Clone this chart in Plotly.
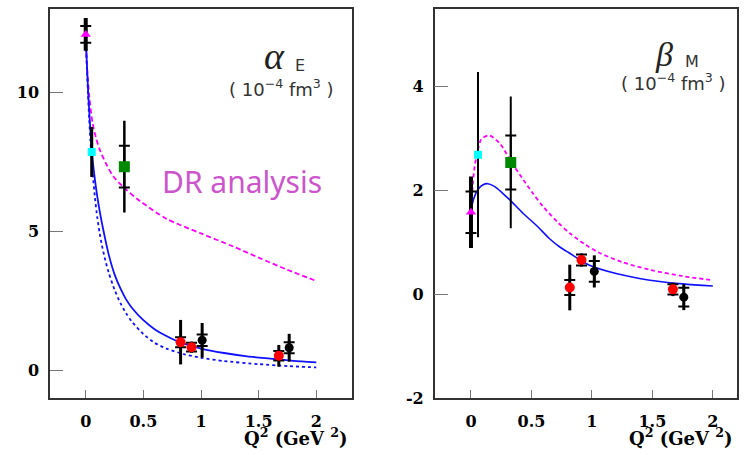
import plotly.graph_objects as go

W, H = 745, 455

# ---------------- alpha_E panel data ----------------
aE_curve_q2 = [0, 0.01, 0.02, 0.03, 0.04, 0.05, 0.06, 0.08, 0.1, 0.12, 0.14, 0.17, 0.2, 0.25, 0.3, 0.35,
               0.4, 0.5, 0.6, 0.7, 0.82, 1.0, 1.2, 1.4, 1.6, 1.8, 2.0]
aE_curve_val = [12.0, 11.0, 10.1, 9.35, 8.65, 8.05, 7.55, 6.85, 6.25, 5.75, 5.3, 4.7, 4.15, 3.45, 2.95, 2.55,
                2.25, 1.8, 1.47, 1.23, 1.0, 0.78, 0.62, 0.5, 0.42, 0.34, 0.28]

aE_dot_q2 = [0, 0.01, 0.02, 0.03, 0.04, 0.05, 0.06, 0.08, 0.1, 0.12, 0.14, 0.17, 0.2, 0.25, 0.3, 0.35,
             0.4, 0.5, 0.6, 0.7, 0.85, 1.0, 1.2, 1.5, 1.75, 2.0]
aE_dot_val = [12.0, 10.9, 9.9, 9.05, 8.3, 7.65, 7.1, 6.2, 5.5, 4.95, 4.5, 3.95, 3.5, 2.9, 2.42, 2.05,
              1.75, 1.3, 0.98, 0.78, 0.58, 0.45, 0.33, 0.22, 0.15, 0.1]

aE_dr_q2 = [0, 0.01, 0.03, 0.059, 0.09, 0.124, 0.18, 0.24, 0.35, 0.47, 0.7, 1.0, 1.28, 1.5, 1.74, 2.0]
aE_dr_val = [12.0, 11.0, 9.9, 8.9, 8.35, 7.91, 7.4, 6.97, 6.5, 6.09, 5.45, 4.92, 4.45, 4.05, 3.63, 3.21]

aE_tri = dict(x=[0.0], y=[12.08], stat=[0.30], tot=[0.59])
aE_cyan = dict(x=[0.052], y=[7.85], tot=[0.90])
aE_green = dict(x=[0.335], y=[7.32], stat=[0.75], tot=[1.65])
aE_red = dict(x=[0.823, 0.918, 1.675], y=[1.01, 0.83, 0.52], stat=[0.18, 0.16, 0.17], tot=[0.80, 0.20, 0.39])
aE_black = dict(x=[1.01, 1.765], y=[1.08, 0.81], stat=[0.21, 0.20], tot=[0.62, 0.50])

# ---------------- beta_M panel data ----------------
bM_curve_q2 = [0, 0.02, 0.058, 0.1, 0.14, 0.2, 0.26, 0.329, 0.43, 0.54, 0.65, 0.735, 0.81, 0.98, 1.2, 1.48, 1.75, 2.0]
bM_curve_val = [1.58, 1.82, 2.02, 2.11, 2.13, 2.07, 1.95, 1.80, 1.56, 1.33, 1.07, 0.91, 0.80, 0.56, 0.40, 0.27, 0.20, 0.16]

bM_dr_q2 = [0, 0.015, 0.03, 0.058, 0.086, 0.15, 0.24, 0.33, 0.42, 0.51, 0.6, 0.72, 0.82, 0.95, 1.06, 1.25, 1.48, 1.75, 2.0]
bM_dr_val = [1.58, 2.1, 2.46, 2.78, 2.99, 3.06, 2.90, 2.56, 2.25, 1.95, 1.68, 1.38, 1.17, 0.95, 0.80, 0.62, 0.47, 0.35, 0.27]

bM_tri = dict(x=[0.0], y=[1.58], stat=[0.40], tot=[0.69])
bM_cyan = dict(x=[0.058], y=[2.69], tot=[1.59])
bM_green = dict(x=[0.329], y=[2.54], stat=[0.52], tot=[1.27])
bM_red = dict(x=[0.817, 0.914, 1.67], y=[0.13, 0.66, 0.094], stat=[0.145, 0.105, 0.10], tot=[0.44, 0.125, 0.13])
bM_black = dict(x=[1.02, 1.76], y=[0.44, -0.056], stat=[0.20, 0.18], tot=[0.31, 0.25])

x_ticks = [0, 0.5, 1, 1.5, 2]
x_ticktext = ["0", "0.5", "1", "1.5", "2"]
aE_ticks = [0, 5, 10]
aE_ticktext = ["0", "5", "10"]
bM_ticks = [-2, 0, 2, 4]
bM_ticktext = ["-2", "0", "2", "4"]

BLUE = "#1010ff"
MAG = "#ff00ff"

fig = go.Figure()


def add_points(d, xa, ya, symbol, color, size, tot_th, stat_th=2.0):
    # total error (no caps)
    fig.add_trace(go.Scatter(
        x=d["x"], y=d["y"], mode="markers", xaxis=xa, yaxis=ya, showlegend=False,
        marker=dict(size=1, color="rgba(0,0,0,0)"),
        error_y=dict(type="data", array=d["tot"], visible=True, color="black",
                     thickness=tot_th, width=0)))
    if "stat" in d:
        fig.add_trace(go.Scatter(
            x=d["x"], y=d["y"], mode="markers", xaxis=xa, yaxis=ya, showlegend=False,
            marker=dict(size=1, color="rgba(0,0,0,0)"),
            error_y=dict(type="data", array=d["stat"], visible=True, color="black",
                         thickness=stat_th, width=5.5)))
    fig.add_trace(go.Scatter(
        x=d["x"], y=d["y"], mode="markers", xaxis=xa, yaxis=ya, showlegend=False,
        marker=dict(symbol=symbol, size=size, color=color, line=dict(width=0))))


# left panel curves
fig.add_trace(go.Scatter(x=aE_dr_q2, y=aE_dr_val, mode="lines", xaxis="x", yaxis="y",
                         line=dict(color=MAG, width=1.8, dash="5px,3px", shape="spline", smoothing=0.8),
                         showlegend=False))
fig.add_trace(go.Scatter(x=aE_dot_q2, y=aE_dot_val, mode="lines", xaxis="x", yaxis="y",
                         line=dict(color=BLUE, width=1.8, dash="dot", shape="spline", smoothing=0.6),
                         showlegend=False))
fig.add_trace(go.Scatter(x=aE_curve_q2, y=aE_curve_val, mode="lines", xaxis="x", yaxis="y",
                         line=dict(color=BLUE, width=1.8, shape="spline", smoothing=0.6),
                         showlegend=False))

add_points(aE_tri, "x", "y", "triangle-up", MAG, 9, 4)
add_points(aE_cyan, "x", "y", "square", "#00ffff", 8, 3)
add_points(aE_green, "x", "y", "square", "#008800", 11, 2.5)
add_points(aE_red, "x", "y", "circle", "#ff0000", 10, 3)
add_points(aE_black, "x", "y", "circle", "black", 9, 3)

# right panel curves
fig.add_trace(go.Scatter(x=bM_dr_q2, y=bM_dr_val, mode="lines", xaxis="x2", yaxis="y2",
                         line=dict(color=MAG, width=1.8, dash="4px,3px", shape="spline", smoothing=0.8),
                         showlegend=False))
fig.add_trace(go.Scatter(x=bM_curve_q2, y=bM_curve_val, mode="lines", xaxis="x2", yaxis="y2",
                         line=dict(color=BLUE, width=1.6, shape="spline", smoothing=0.8),
                         showlegend=False))

add_points(bM_tri, "x2", "y2", "triangle-up", MAG, 9, 4)
add_points(bM_cyan, "x2", "y2", "square", "#00ffff", 8, 2)
add_points(bM_green, "x2", "y2", "square", "#008800", 11, 2)
add_points(bM_red, "x2", "y2", "circle", "#ff0000", 10, 3)
add_points(bM_black, "x2", "y2", "circle", "black", 9, 3)

tickfont = dict(family="DejaVu Serif", size=16, color="black", weight="bold")
frame = dict(showline=True, mirror=True, linecolor="#333333", linewidth=1.5,
             showgrid=False, zeroline=False, ticks="inside", tickcolor="#777777",
             tickwidth=1, tickfont=tickfont)


def px(x):
    return x / W


def py(y):
    return 1 - y / H


fig.update_layout(
    width=W, height=H, margin=dict(l=0, r=0, t=0, b=0),
    paper_bgcolor="white", plot_bgcolor="white",
    xaxis=dict(domain=[px(50), px(352)], range=[-0.31, 2.31], tickvals=x_ticks, ticktext=x_ticktext,
               ticklen=8, ticklabelstandoff=8, anchor="y", **frame),
    yaxis=dict(domain=[py(407), py(9)], range=[-1.0, 13.0], tickvals=aE_ticks, ticktext=aE_ticktext,
               ticklen=13, ticklabelstandoff=6, anchor="x", **frame),
    xaxis2=dict(domain=[px(434.7), px(737)], range=[-0.30, 2.20], tickvals=x_ticks, ticktext=x_ticktext,
                ticklen=8, ticklabelstandoff=8, anchor="y2", **frame),
    yaxis2=dict(domain=[py(407), py(9)], range=[-2.0, 5.5], tickvals=bM_ticks, ticktext=bM_ticktext,
                ticklen=14, ticklabelstandoff=6, anchor="x2", **frame),
)

ann = []


def text(x, y, s, size, color="#333333", family="DejaVu Sans", xanchor="center", weight="normal",
         style="normal"):
    ann.append(dict(x=px(x), y=py(y), xref="paper", yref="paper", text=s, showarrow=False,
                    xanchor=xanchor, yanchor="middle",
                    font=dict(family=family, size=size, color=color, weight=weight, style=style)))


# left labels
text(274, 57, "α", 38, family="Liberation Serif", style="italic", color="#222222")
text(300, 67, "E", 16)
text(281, 90, "( 10<sup>−4</sup> fm<sup>3</sup> )", 18)
text(242, 186, "DR analysis", 30, color="#cc55cc", family="Noto Sans")
text(350, 447, "Q<sup>2</sup> (GeV <sup>2</sup>)", 18, color="black", family="DejaVu Serif",
     xanchor="right", weight="bold")
# right labels
text(664, 56, "β", 34, family="Liberation Serif", style="italic", color="#222222")
text(692, 63, "M", 16)
text(673, 84, "( 10<sup>−4</sup> fm<sup>3</sup> )", 18)
text(735, 447, "Q<sup>2</sup> (GeV <sup>2</sup>)", 18, color="black", family="DejaVu Serif",
     xanchor="right", weight="bold")

fig.update_layout(annotations=ann)
fig.write_html("out.html",
               post_script="document.body.style.margin='0';document.body.style.overflow='hidden';")
